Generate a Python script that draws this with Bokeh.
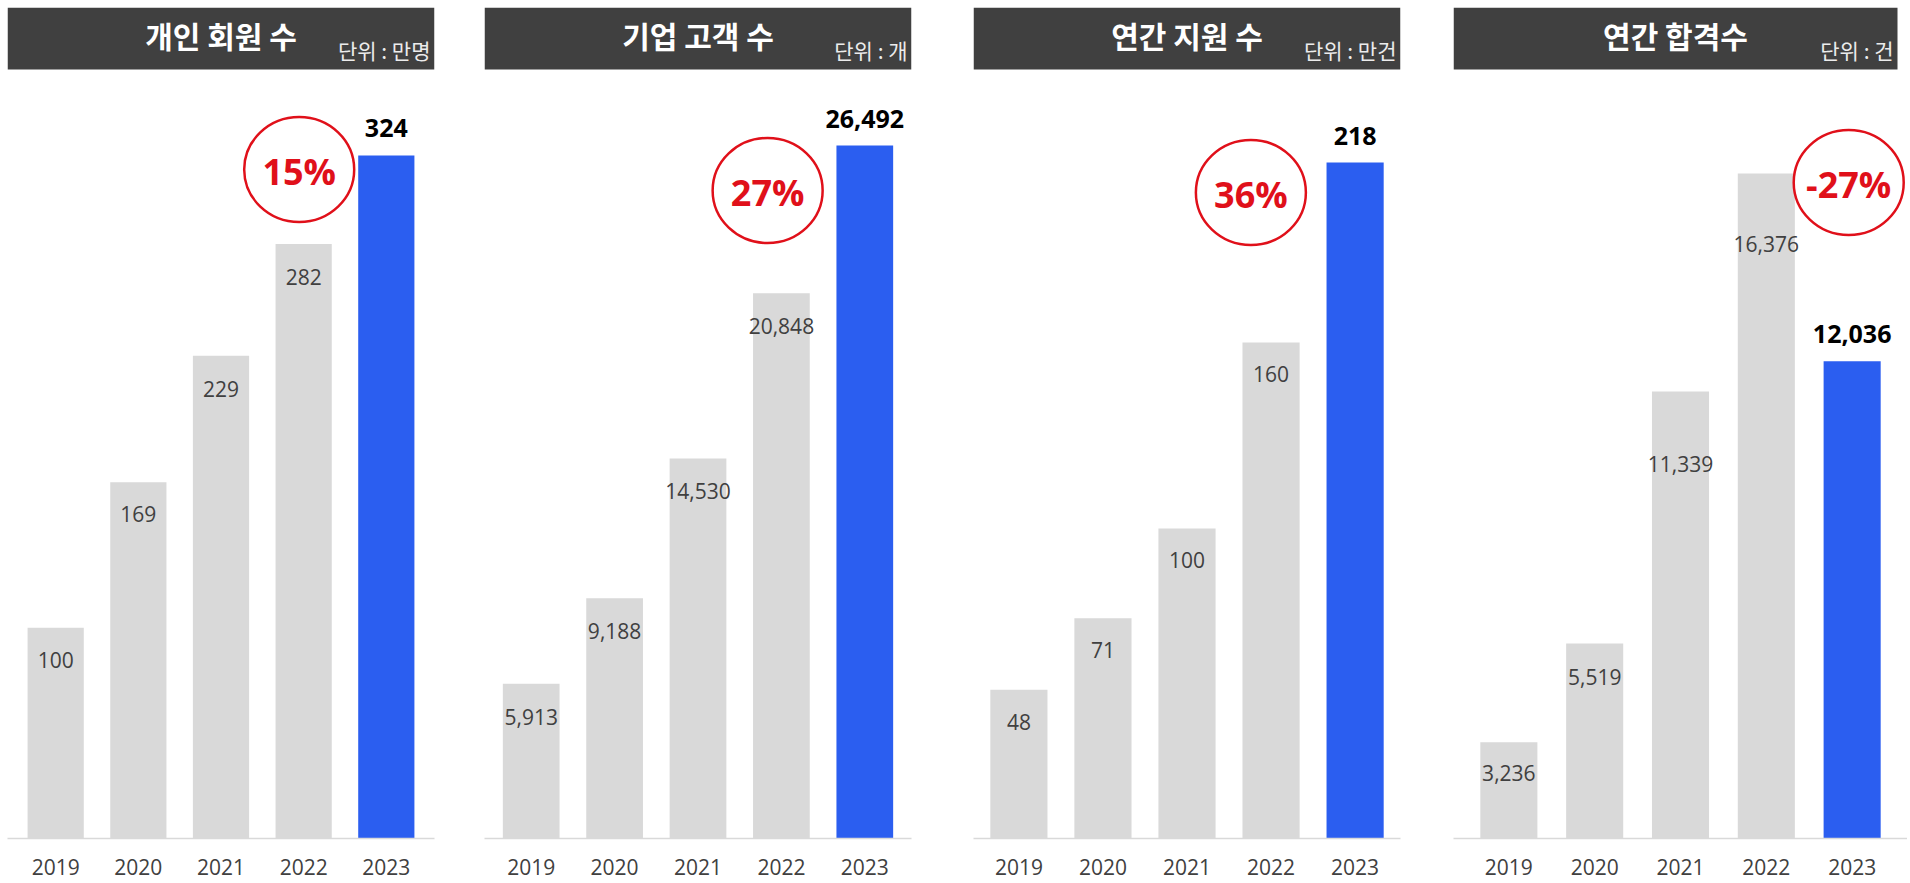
from bokeh.plotting import figure
from bokeh.models import FactorRange, Range1d, BoxAnnotation, Label, ColumnDataSource
from bokeh.layouts import row
from bokeh.transform import dodge
from bokeh.core.properties import value
from bokeh.embed import file_html
from bokeh.resources import INLINE

# ---------------- data ----------------
years = ["2019", "2020", "2021", "2022", "2023"]
members = [100, 169, 229, 282, 324]            # 개인 회원 수 (만명)
corporate = [5913, 9188, 14530, 20848, 26492]  # 기업 고객 수 (개)
applications = [48, 71, 100, 160, 218]         # 연간 지원 수 (만건)
passes = [3236, 5519, 11339, 16376, 12036]     # 연간 합격수 (건)
titles = ["개인 회원 수", "기업 고객 수", "연간 지원 수", "연간 합격수"]
units = ["단위 : 만명", "단위 : 개", "단위 : 만건", "단위 : 건"]
growth = ["15%", "27%", "36%", "-27%"]
series = [members, corporate, applications, passes]

# ---------------- style / layout ----------------
HEADER = "#404040"
GRAY = "#d9d9d9"
BLUE = "#2b5ef0"
RED = "#e0101a"
TXT = "#404040"

fig_widths = [459, 483, 484, 481]
border_left = [7, 25, 31, 27]
border_right = [25, 31, 26, 0]
header_w = [427, 427, 427, 444]
fig_height = 882
border_top = 7
border_bottom = 44
frame_h = fig_height - border_top - border_bottom
y_ranges = [(0, 394.2), (0, 31768), (0, 268.0), (1012, 20212)]
x_pads = [0.083, 0.06, 0.04, 0.145]
bar_widths = [0.68, 0.68, 0.68, 0.665]
circle_cat = ["2022", "2022", "2022", "2023"]
circle_dodge = [-0.054, -0.165, -0.24, -0.04]
circle_py = [162, 183, 185, 175]       # px below frame top
inside_offsets = [[32, 32, 33, 33], [33, 33, 33, 33], [32, 32, 32, 32], [31, 34, 72, 70]]
header_h = 62


def make_panel(k):
    vals = series[k]
    y0, y1 = y_ranges[k]
    span = y1 - y0

    def y_at(px):  # px measured from the frame top
        return y1 - px * span / frame_h

    hw = header_w[k]
    p = figure(
        x_range=FactorRange(*years, range_padding=x_pads[k], range_padding_units="absolute"),
        y_range=Range1d(y0, y1),
        width=fig_widths[k], height=fig_height,
        output_backend="svg", toolbar_location=None,
        y_axis_location=None,
        min_border_left=border_left[k], min_border_right=border_right[k],
        min_border_top=border_top, min_border_bottom=border_bottom,
    )
    p.outline_line_color = None
    p.grid.grid_line_color = None
    p.background_fill_color = "white"

    colors = [GRAY] * 4 + [BLUE]
    src = ColumnDataSource(dict(x=years, top=vals, color=colors))
    p.vbar(x="x", top="top", bottom=y0, width=bar_widths[k], color="color", source=src, line_color=None)

    # inside labels for first four bars
    for i in range(4):
        p.text(x=[years[i]], y=[vals[i]], text=[f"{vals[i]:,}"],
               text_font=value("Open Sans"), text_font_size=value("21px"),
               text_color=TXT, text_align="center", text_baseline="middle",
               y_offset=inside_offsets[k][i])
    # bold label for last bar
    p.text(x=[years[4]], y=[vals[4]], text=[f"{vals[4]:,}"],
           text_font=value("Open Sans"), text_font_size=value("25px"), text_font_style="bold",
           text_color="black", text_align="center", text_baseline="middle", y_offset=-27)

    # growth circle
    csrc = ColumnDataSource(dict(x=[circle_cat[k]], y=[y_at(circle_py[k])], t=[growth[k]]))
    p.ellipse(x=dodge("x", circle_dodge[k], range=p.x_range), y="y", width=110, height=105,
              width_units="screen", height_units="screen",
              fill_color=None, line_color=RED, line_width=2.5, source=csrc)
    p.text(x=dodge("x", circle_dodge[k], range=p.x_range), y="y", text="t", source=csrc,
           text_font=value("Open Sans"), text_font_size=value("36px"), text_font_style="bold",
           text_color=RED, text_align="center", text_baseline="middle", y_offset=2)

    # header band
    p.add_layout(BoxAnnotation(left=0, left_units="screen", right=hw, right_units="screen",
                               bottom=y_at(header_h), fill_color=HEADER, fill_alpha=1.0,
                               line_color=None))
    p.add_layout(Label(x=hw / 2, x_units="screen", y=y_at(27), y_units="data",
                       text=titles[k], text_font="Noto Sans CJK KR", text_font_style="bold",
                       text_font_size="30px", text_color="white",
                       text_align="center", text_baseline="middle"))
    p.add_layout(Label(x=hw - 4, x_units="screen", y=y_at(42), y_units="data",
                       text=units[k], text_font="Noto Sans CJK KR",
                       text_font_size="21px", text_color="#ececec",
                       text_align="right", text_baseline="middle"))

    ax = p.xaxis[0]
    ax.axis_line_color = GRAY
    ax.axis_line_width = 1.5
    ax.major_tick_line_color = None
    ax.minor_tick_line_color = None
    ax.major_label_text_font = "Open Sans"
    ax.major_label_text_font_size = "21px"
    ax.major_label_text_color = TXT
    ax.major_label_standoff = 14
    return p


plots = [make_panel(k) for k in range(4)]
layout = row(*plots, spacing=0)
open("out.html", "w").write(file_html(layout, INLINE))
